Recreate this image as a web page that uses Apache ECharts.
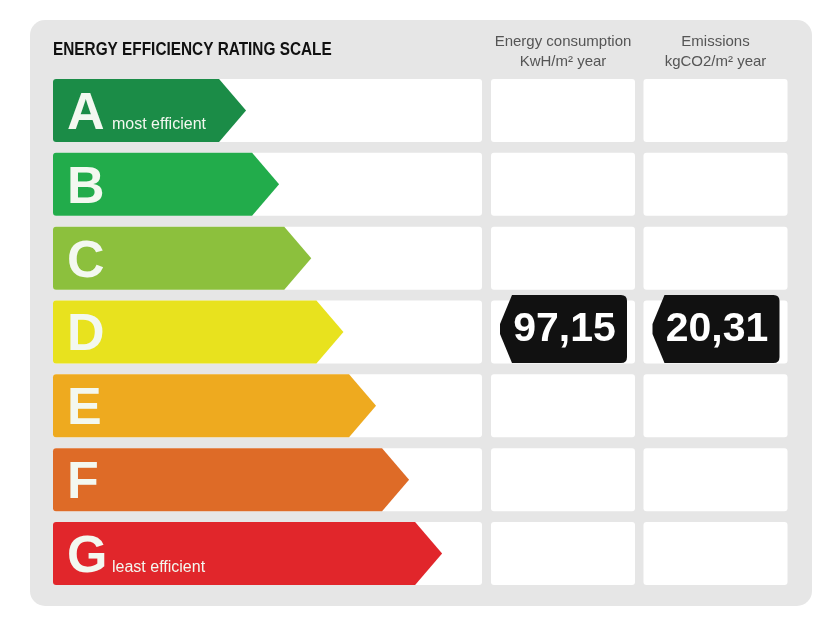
<!DOCTYPE html>
<html lang="en" style="height: 100%">
<head>
<meta charset="utf-8">
<title>Energy Efficiency Rating Scale</title>
</head>
<body style="height: 100%; margin: 0; background: #fff">
<div id="container" style="height: 100%"></div>

<script type="text/javascript" src="https://cdn.jsdelivr.net/npm/echarts/dist/echarts.min.js"></script>

<script type="text/javascript">

var dom = document.getElementById('container');
var myChart = echarts.init(dom, null, {width: 840, height: 630});

// rating classes, top (best) to bottom (worst)
const ratings = ['A', 'B', 'C', 'D', 'E', 'F', 'G'];
// arrow length, as % of the scale column
const arrowLength = [45, 52.7, 60.2, 67.7, 75.3, 83, 90.7];
const ratingNotes = ['most efficient', '', '', '', '', '', 'least efficient'];
const ratingColors = ['#1b8c47', '#22ac4b', '#8cc03d', '#e8e21e', '#eeaa1f', '#de6b27', '#e1262b'];

// the property's result
const currentRating = 'D';
const energyConsumption = 97.15;   // KwH/m² year
const emissions = 20.31;           // kgCO2/m² year

const font = '"Liberation Sans", Arial, sans-serif';
const gap = 10.9; // grey gap between rows

function cellRect(params, api) {
    var cs = params.coordSys;
    var cy = api.coord([0, api.value(1)])[1];
    var h = api.size([0, 1])[1] - gap;
    return {x: cs.x, y: cy - h / 2, width: cs.width, height: h, cy: cy};
}

function renderArrow(params, api) {
    var c = cellRect(params, api);
    var i = params.dataIndex;
    var x0 = c.x, r = 3;
    var tip = api.coord([api.value(0), api.value(1)])[0];
    var body = tip - 27;
    var top = c.y, bottom = c.y + c.height;
    var path = 'M' + (x0 + r) + ',' + top + 'L' + body + ',' + top + 'L' + tip + ',' + c.cy +
        'L' + body + ',' + bottom + 'L' + (x0 + r) + ',' + bottom +
        'Q' + x0 + ',' + bottom + ',' + x0 + ',' + (bottom - r) +
        'L' + x0 + ',' + (top + r) + 'Q' + x0 + ',' + top + ',' + (x0 + r) + ',' + top + 'Z';
    var children = [
        {type: 'rect', shape: {x: c.x, y: c.y, width: c.width, height: c.height, r: 3}, style: {fill: '#fff'}},
        {type: 'path', shape: {pathData: path}, style: {fill: ratingColors[i]}},
        {type: 'text', x: x0 + 14, y: c.cy + 4,
            style: {text: ratings[i], fill: '#f3f8f0', font: 'bold 52px ' + font,
                textAlign: 'left', textVerticalAlign: 'middle'}}
    ];
    if (ratingNotes[i]) {
        children.push({type: 'text', x: x0 + 59, y: c.cy + 14,
            style: {text: ratingNotes[i], fill: '#f3f8f0', font: '16px ' + font,
                textAlign: 'left', textVerticalAlign: 'middle'}});
    }
    return {type: 'group', children: children};
}

function renderValue(params, api) {
    var c = cellRect(params, api);
    var children = [
        {type: 'rect', shape: {x: c.x, y: c.y, width: c.width, height: c.height, r: 3}, style: {fill: '#fff'}}
    ];
    var v = api.value(2);
    if (!isNaN(v) && v !== null) {
        var top = c.cy - 37, bottom = c.cy + 31, mid = (top + bottom) / 2;
        var px = c.x + 9, bx = c.x + 21, rx = c.x + c.width - 8, r = 6;
        var path = 'M' + bx + ',' + top + 'L' + (rx - r) + ',' + top +
            'Q' + rx + ',' + top + ',' + rx + ',' + (top + r) +
            'L' + rx + ',' + (bottom - r) +
            'Q' + rx + ',' + bottom + ',' + (rx - r) + ',' + bottom +
            'L' + bx + ',' + bottom + 'L' + px + ',' + (mid + 5) + 'L' + px + ',' + (mid - 5) + 'Z';
        children.push({type: 'path', shape: {pathData: path}, style: {fill: '#111'}});
        children.push({type: 'text', x: (px + rx) / 2 + 1, y: mid + 1,
            style: {text: v.toFixed(2).replace('.', ','), fill: '#fff', font: 'bold 41px ' + font,
                textAlign: 'center', textVerticalAlign: 'middle'}});
    }
    return {type: 'group', children: children};
}

function valueData(value) {
    return ratings.map(function (r) {
        return [0.5, r, r === currentRating ? value : null];
    });
}

var gridTop = 79 - gap / 2;
var gridHeight = 506 + gap;

function yAxis(idx) {
    return {type: 'category', data: ratings, inverse: true, gridIndex: idx, show: false};
}

function headerAxis(idx, name) {
    return {
        type: 'value', gridIndex: idx, min: 0, max: 1, position: 'top',
        name: name, nameLocation: 'middle', nameGap: 2,
        nameTextStyle: {fontFamily: font, fontSize: 15, color: '#555', lineHeight: 20},
        axisLine: {show: false}, axisTick: {show: false}, axisLabel: {show: false}, splitLine: {show: false}
    };
}

var option = {
    animation: false,
    graphic: [
        {
            type: 'rect', z: -10,
            shape: {x: 30, y: 20, width: 782, height: 586, r: 15},
            style: {fill: '#e6e6e6'}
        },
        {
            // condensed bold title
            type: 'text', x: 53, y: 50, scaleX: 0.83,
            style: {text: 'ENERGY EFFICIENCY RATING SCALE', fill: '#111', font: 'bold 18.5px ' + font,
                textAlign: 'left', textVerticalAlign: 'middle'}
        }
    ],
    grid: [
        {left: 53, top: gridTop, width: 429, height: gridHeight},
        {left: 491, top: gridTop, width: 144, height: gridHeight},
        {left: 643.5, top: gridTop, width: 144, height: gridHeight}
    ],
    xAxis: [
        {type: 'value', gridIndex: 0, min: 0, max: 100, show: false},
        headerAxis(1, 'Energy consumption\nKwH/m² year'),
        headerAxis(2, 'Emissions\nkgCO2/m² year')
    ],
    yAxis: [yAxis(0), yAxis(1), yAxis(2)],
    series: [
        {
            type: 'custom', name: 'Rating', xAxisIndex: 0, yAxisIndex: 0,
            renderItem: renderArrow,
            data: ratings.map(function (r, i) { return [arrowLength[i], r]; })
        },
        {
            type: 'custom', name: 'Energy consumption', xAxisIndex: 1, yAxisIndex: 1,
            renderItem: renderValue, data: valueData(energyConsumption)
        },
        {
            type: 'custom', name: 'Emissions', xAxisIndex: 2, yAxisIndex: 2,
            renderItem: renderValue, data: valueData(emissions)
        }
    ]
};

myChart.setOption(option);
window.addEventListener('resize', myChart.resize);
</script>
</body>
</html>
